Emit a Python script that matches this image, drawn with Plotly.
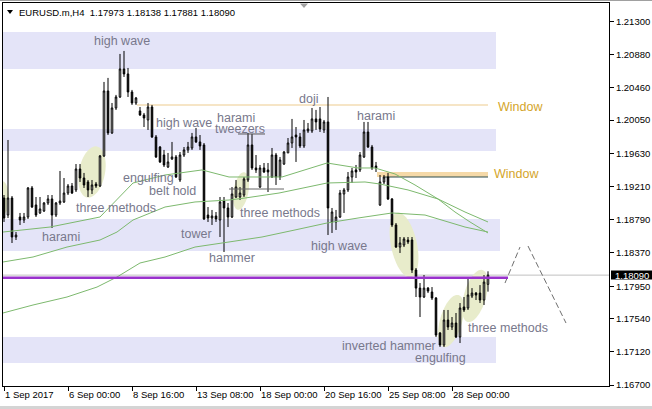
import math
import plotly.graph_objects as go

# ---------------- data ----------------
bars = list(range(122))
opens = [
    1.19065, 1.18850, 1.19065, 1.18572, 1.18825, 1.18787, 1.18825, 1.19192, 1.18977, 1.18876,
    1.18901, 1.19002, 1.19053, 1.18850, 1.19002, 1.19015, 1.19128, 1.19217, 1.19167, 1.19432,
    1.19318, 1.19268, 1.19167, 1.19242, 1.19217, 1.19597, 1.20419, 1.19888, 1.20204, 1.20343,
    1.20697, 1.20634, 1.20406, 1.20267, 1.20166, 1.20115, 1.20052, 1.20216, 1.19837, 1.19710,
    1.19609, 1.19457, 1.19559, 1.19584, 1.19293, 1.19609, 1.19673, 1.19698, 1.19837, 1.19774,
    1.19736, 1.18850, 1.18812, 1.18838, 1.18787, 1.19027, 1.18939, 1.18825, 1.19078, 1.19078,
    1.19103, 1.19293, 1.19736, 1.19445, 1.19204, 1.19445, 1.19420, 1.19331, 1.19609, 1.19331,
    1.19495, 1.19635, 1.19761, 1.19862, 1.19837, 1.19723, 1.19913, 1.19913, 1.20065, 1.20065,
    1.19926, 1.20027, 1.18762, 1.18762, 1.18825, 1.19116, 1.19167, 1.19331, 1.19420, 1.19420,
    1.19584, 1.19900, 1.19710, 1.19470, 1.18977, 1.19268, 1.19331, 1.19053, 1.18724, 1.18445,
    1.18471, 1.18534, 1.18534, 1.18155, 1.17926, 1.17813, 1.17926, 1.17876, 1.17800, 1.17358,
    1.17206, 1.17522, 1.17434, 1.17484, 1.17307, 1.17687, 1.17674, 1.17825, 1.17863, 1.17863,
    1.17775, 1.17973]
highs = [
    1.19103, 1.19799, 1.19090, 1.18635, 1.18876, 1.18876, 1.19204, 1.19217, 1.19078, 1.19078,
    1.19015, 1.19103, 1.19103, 1.19015, 1.19407, 1.19318, 1.19242, 1.19255, 1.19495, 1.19495,
    1.19382, 1.19293, 1.19293, 1.19268, 1.19609, 1.20533, 1.20584, 1.20267, 1.20369, 1.20887,
    1.20925, 1.20710, 1.20432, 1.20343, 1.20216, 1.20141, 1.20267, 1.20242, 1.19862, 1.19723,
    1.19673, 1.19635, 1.19774, 1.19609, 1.19647, 1.19710, 1.19774, 1.19888, 1.19951, 1.19862,
    1.19761, 1.18951, 1.18914, 1.18888, 1.19078, 1.19078, 1.19002, 1.19204, 1.19293, 1.19204,
    1.19331, 1.19888, 1.19875, 1.19609, 1.19483, 1.19508, 1.19508, 1.19698, 1.19635, 1.19584,
    1.19660, 1.19824, 1.20065, 1.19963, 1.19888, 1.20052, 1.20014, 1.20204, 1.20179, 1.20216,
    1.20052, 1.20343, 1.18939, 1.18914, 1.19167, 1.19192, 1.19394, 1.19445, 1.19483, 1.19647,
    1.20027, 1.20027, 1.19736, 1.19521, 1.19356, 1.19356, 1.19382, 1.19065, 1.18749, 1.18572,
    1.18572, 1.18572, 1.18572, 1.18180, 1.17990, 1.18091, 1.17939, 1.17939, 1.17813, 1.17370,
    1.17649, 1.17649, 1.17560, 1.17611, 1.17737, 1.17813, 1.18053, 1.17926, 1.17876, 1.17964,
    1.18091, 1.18138]
lows = [
    1.18762, 1.18812, 1.18496, 1.18534, 1.18724, 1.18749, 1.18800, 1.18939, 1.18825, 1.18863,
    1.18888, 1.18977, 1.18686, 1.18825, 1.18977, 1.19002, 1.19103, 1.19116, 1.19141, 1.19268,
    1.19192, 1.19078, 1.19116, 1.19192, 1.19204, 1.19584, 1.19862, 1.19875, 1.20179, 1.20330,
    1.20596, 1.20343, 1.20242, 1.20242, 1.20103, 1.19963, 1.19926, 1.19824, 1.19571, 1.19508,
    1.19457, 1.19445, 1.19546, 1.19318, 1.19268, 1.19584, 1.19635, 1.19673, 1.19761, 1.19673,
    1.18787, 1.18762, 1.18724, 1.18762, 1.18572, 1.18382, 1.18698, 1.18812, 1.19065, 1.19040,
    1.19078, 1.19268, 1.19420, 1.19382, 1.19192, 1.19382, 1.19141, 1.19318, 1.19230, 1.19293,
    1.19483, 1.19635, 1.19698, 1.19521, 1.19698, 1.19698, 1.19888, 1.19888, 1.19926, 1.19900,
    1.19888, 1.18597, 1.18623, 1.18661, 1.18812, 1.18876, 1.19141, 1.19255, 1.19318, 1.19394,
    1.19571, 1.19698, 1.19420, 1.19394, 1.18964, 1.19242, 1.19040, 1.18698, 1.18433, 1.18370,
    1.18445, 1.18483, 1.18117, 1.17813, 1.17560, 1.17800, 1.17863, 1.17775, 1.17307, 1.17181,
    1.17181, 1.17396, 1.17396, 1.17294, 1.17231, 1.17624, 1.17649, 1.17800, 1.17775, 1.17737,
    1.17712, 1.17881]
closes = [
    1.18812, 1.19065, 1.18572, 1.18597, 1.18787, 1.18825, 1.19192, 1.18951, 1.18850, 1.18926,
    1.19002, 1.19053, 1.18850, 1.19002, 1.19027, 1.19128, 1.19217, 1.19128, 1.19432, 1.19318,
    1.19230, 1.19167, 1.19230, 1.19217, 1.19597, 1.20419, 1.19888, 1.20204, 1.20343, 1.20697,
    1.20634, 1.20406, 1.20267, 1.20330, 1.20115, 1.20077, 1.20216, 1.19837, 1.19584, 1.19521,
    1.19483, 1.19521, 1.19584, 1.19331, 1.19609, 1.19673, 1.19710, 1.19837, 1.19774, 1.19723,
    1.18800, 1.18812, 1.18838, 1.18800, 1.19015, 1.18939, 1.18825, 1.19116, 1.19204, 1.19128,
    1.19306, 1.19736, 1.19445, 1.19420, 1.19445, 1.19394, 1.19394, 1.19609, 1.19331, 1.19546,
    1.19647, 1.19761, 1.19837, 1.19837, 1.19723, 1.19926, 1.19938, 1.20065, 1.20027, 1.19938,
    1.20027, 1.18939, 1.18888, 1.18825, 1.19128, 1.19167, 1.19331, 1.19407, 1.19394, 1.19609,
    1.19900, 1.19710, 1.19445, 1.19445, 1.19268, 1.19331, 1.19053, 1.18724, 1.18445, 1.18496,
    1.18547, 1.18509, 1.18155, 1.17926, 1.17813, 1.17926, 1.17888, 1.17800, 1.17332, 1.17206,
    1.17522, 1.17434, 1.17484, 1.17307, 1.17674, 1.17649, 1.17838, 1.17863, 1.17838, 1.17775,
    1.18002, 1.18090]

x_tick_bars = [0, 16, 32, 48, 64, 80, 96, 112]
x_tick_labels = ["1 Sep 2017", "6 Sep 00:00", "8 Sep 16:00", "13 Sep 08:00",
                 "18 Sep 00:00", "20 Sep 16:00", "25 Sep 08:00", "28 Sep 00:00"]
y_ticks = [1.21300, 1.20880, 1.20460, 1.20050, 1.19630, 1.19210,
           1.18790, 1.18370, 1.17950, 1.17540, 1.17120, 1.16700]

# moving averages
ma_fast_x = [-0.25, 11.5, 24, 29, 32.25, 40.25, 49.5, 56.25, 64.5, 69.5, 80.75, 88.5, 92.75, 97.75, 102.75, 108.5, 112.75, 116.5, 121]
ma_fast_y = [1.18635, 1.18698, 1.18825, 1.19078, 1.19255, 1.19356, 1.19420, 1.19331, 1.19331, 1.19331, 1.19508, 1.19445, 1.19445, 1.19369, 1.19230, 1.19053, 1.18888, 1.18762, 1.18623]
ma_mid_x = [-0.25, 7.25, 15.75, 24, 28.25, 32.25, 40.25, 47.75, 56.25, 60.25, 68.75, 80.75, 90.25, 94, 101, 108.5, 115.25, 121]
ma_mid_y = [1.18256, 1.18319, 1.18445, 1.18534, 1.18635, 1.18787, 1.18951, 1.19015, 1.19040, 1.19065, 1.19128, 1.19255, 1.19268, 1.19242, 1.19167, 1.19053, 1.18888, 1.18762]
ma_slow_x = [-0.25, 7.25, 15.75, 23.25, 28.25, 34, 40.25, 47.75, 56.25, 64.5, 72.75, 80.75, 88.5, 97, 105.25, 115.25, 121]
ma_slow_y = [1.17611, 1.17712, 1.17813, 1.17939, 1.18066, 1.18243, 1.18319, 1.18445, 1.18509, 1.18572, 1.18661, 1.18749, 1.18812, 1.18876, 1.18850, 1.18698, 1.18635]

last_price = 1.18090
support_level = 1.18057
projection_x = [125.25, 129.0]
projection_y = [1.17990, 1.18445]
projection2_x = [131.0, 140.5]
projection2_y = [1.18458, 1.17484]

# zones (price bands)
zones = [(1.21165, 1.20697), (1.19938, 1.19660), (1.18800, 1.18395), (1.17307, 1.16978)]

labels = [
    ("high wave", 29.5, 1.21051), ("high wave", 45, 1.20014), ("harami", 58, 1.20077),
    ("tweezers", 59, 1.19938), ("doji", 76, 1.20318), ("harami", 93, 1.20103),
    ("engulfing", 36, 1.19318), ("belt hold", 42, 1.19154), ("three methods", 28, 1.18939),
    ("harami", 14.25, 1.18572), ("tower", 48, 1.18610), ("hammer", 57, 1.18306),
    ("three methods", 69, 1.18876), ("high wave", 83.75, 1.18458),
    ("inverted hammer", 96.25, 1.17193), ("engulfing", 109, 1.17041),
    ("three methods", 126, 1.17421),
]

# ---------------- geometry ----------------
W, H = 652, 409
ML, MR, MT, MB = 3, 43, 3, 23
X_RANGE = [-0.25, 151.25]
Y_RANGE = [1.166876, 1.215314]
PW, PH = W - ML - MR, H - MT - MB
PX_BAR = PW / (X_RANGE[1] - X_RANGE[0])
PX_PRICE = PH / (Y_RANGE[1] - Y_RANGE[0])


def pxx(px):
    return (px - ML) / PW


def pxy(py):
    return (H - MB - py) / PH


def ellipse_path(cb, cp, a, b, theta_deg, n=60):
    th = math.radians(theta_deg)
    pts = []
    for k in range(n):
        t = 2 * math.pi * k / n
        dx = a * math.cos(t) * math.cos(th) - b * math.sin(t) * math.sin(th)
        dy = a * math.cos(t) * math.sin(th) + b * math.sin(t) * math.cos(th)
        pts.append((cb + dx / PX_BAR, cp + dy / PX_PRICE))
    return "M " + " L ".join(f"{x:.4f},{y:.6f}" for x, y in pts) + " Z"


fig = go.Figure()

shapes = []
BAND = "#E4E4F8"
for i, (top, bot) in enumerate(zones):
    x1 = 124 if i == 2 else 123
    shapes.append(dict(type="rect", xref="x", yref="y", x0=-1, x1=x1, y0=bot, y1=top,
                       fillcolor=BAND, line=dict(width=0), layer="below"))

ELL = "#E8ECCB"
ellipses = [(22, 1.19394, 26, 13, 79), (-0.5, 1.19065, 17, 7, 90), (59.25, 1.19154, 19, 7.5, 80),
            (100, 1.18471, 33, 13, 102), (111.75, 1.17509, 27, 11, 74), (117.75, 1.17826, 27, 11, 74)]
for cb, cp, a, b, th in ellipses:
    shapes.append(dict(type="path", xref="x", yref="y", path=ellipse_path(cb, cp, a, b, th),
                       fillcolor=ELL, line=dict(width=0), layer="below"))

# windows
shapes.append(dict(type="line", xref="x", yref="y", x0=33.25, x1=121, y0=1.20242, y1=1.20242,
                   line=dict(color="#F3DDB3", width=1.5), layer="below"))
shapes.append(dict(type="rect", xref="x", yref="y", x0=93.25, x1=121, y0=1.19331, y1=1.19394,
                   fillcolor="#F5D9A8", line=dict(width=0), layer="below"))
shapes.append(dict(type="line", xref="x", yref="y", x0=95.25, x1=121, y0=1.19331, y1=1.19331,
                   line=dict(color="#2F4F4F", width=1.2), layer="below"))
# tweezers levels
shapes.append(dict(type="line", xref="x", yref="y", x0=58.5, x1=65.25, y0=1.19875, y1=1.19875,
                   line=dict(color="#555555", width=1)))
shapes.append(dict(type="line", xref="x", yref="y", x0=56.25, x1=70, y0=1.19179, y1=1.19179,
                   line=dict(color="#666666", width=1)))
# current price and support
shapes.append(dict(type="line", xref="paper", yref="y", x0=0, x1=1, y0=last_price, y1=last_price,
                   line=dict(color="#C0C0C0", width=1), layer="below"))
shapes.append(dict(type="line", xref="x", yref="y", x0=-0.25, x1=126, y0=support_level, y1=support_level,
                   line=dict(color="#9932CC", width=2.6)))
# price label box on the axis
shapes.append(dict(type="rect", xref="paper", yref="paper", x0=pxx(611), x1=pxx(652),
                   y0=pxy(279.5), y1=pxy(270.5), fillcolor="black", line=dict(width=0)))
# header triangle & chart shift marker
shapes.append(dict(type="path", xref="paper", yref="paper",
                   path=f"M {pxx(7)},{pxy(10)} L {pxx(13)},{pxy(10)} L {pxx(10)},{pxy(14)} Z",
                   fillcolor="black", line=dict(width=0)))
shapes.append(dict(type="path", xref="paper", yref="paper",
                   path=f"M {pxx(300)},{pxy(3.5)} L {pxx(308)},{pxy(3.5)} L {pxx(304)},{pxy(8)} Z",
                   fillcolor="#A0A0A0", line=dict(width=0)))
# window frame greys
shapes.append(dict(type="rect", xref="paper", yref="paper", x0=pxx(0), x1=pxx(652),
                   y0=pxy(409), y1=pxy(406), fillcolor="#D4D4D4", line=dict(width=0)))
shapes.append(dict(type="rect", xref="paper", yref="paper", x0=pxx(0), x1=pxx(652),
                   y0=pxy(1), y1=pxy(0), fillcolor="#A0A0A0", line=dict(width=0)))

MA_COLOR = "#7DB96E"
for xs, ys in [(ma_slow_x, ma_slow_y), (ma_mid_x, ma_mid_y), (ma_fast_x, ma_fast_y)]:
    fig.add_trace(go.Scatter(x=xs, y=ys, mode="lines", line=dict(color=MA_COLOR, width=1),
                             hoverinfo="skip"))

for xs, ys in [(projection_x, projection_y), (projection2_x, projection2_y)]:
    fig.add_trace(go.Scatter(x=xs, y=ys, mode="lines",
                             line=dict(color="#6E6E6E", width=1, dash="6px,3px"), hoverinfo="skip"))

fig.add_trace(go.Candlestick(
    x=bars, open=opens, high=highs, low=lows, close=closes,
    increasing=dict(line=dict(color="black", width=1), fillcolor="white"),
    decreasing=dict(line=dict(color="black", width=1), fillcolor="black"),
    whiskerwidth=0,
))

TXT = "rgb(120,120,140)"
ann = []
for t, xb, yp in labels:
    ann.append(dict(x=xb, y=yp, xref="x", yref="y", text=t, showarrow=False,
                    xanchor="center", yanchor="middle",
                    font=dict(family="Liberation Sans, Arial", size=12.5, color=TXT)))
for xb, yp in [(123.0, 1.20216), (122.0, 1.19369)]:
    ann.append(dict(x=xb, y=yp, xref="x", yref="y", text="Window", showarrow=False,
                    xanchor="left", yanchor="middle",
                    font=dict(family="Liberation Sans, Arial", size=12.5, color="#D4A52A")))
ann.append(dict(x=pxx(17), y=pxy(12), xref="paper", yref="paper",
                text="EURUSD.m,H4  1.17973 1.18138 1.17881 1.18090", showarrow=False,
                xanchor="left", yanchor="middle",
                font=dict(family="Liberation Sans, Arial", size=9.5, color="black")))
ann.append(dict(x=pxx(631.5), y=pxy(275), xref="paper", yref="paper", text=f"{last_price:.5f}",
                showarrow=False, xanchor="center", yanchor="middle",
                font=dict(family="Liberation Sans, Arial", size=9.5, color="white")))

TICKFONT = dict(family="Liberation Sans, Arial", size=9.5, color="black")
fig.update_layout(
    width=W, height=H, margin=dict(l=ML, r=MR, t=MT, b=MB, autoexpand=False),
    paper_bgcolor="white", plot_bgcolor="white", showlegend=False,
    boxgap=0.45,
    shapes=shapes, annotations=ann,
    xaxis=dict(range=X_RANGE, showgrid=False, zeroline=False, showline=True, linecolor="black",
               linewidth=1, mirror=True, ticks="outside", ticklen=4, tickcolor="black",
               tickvals=x_tick_bars, ticktext=x_tick_labels, ticklabelposition="outside right",
               tickangle=0, automargin=False,
               tickfont=TICKFONT, rangeslider=dict(visible=False), fixedrange=True),
    yaxis=dict(range=Y_RANGE, side="right", showgrid=False, zeroline=False, showline=True,
               linecolor="black", linewidth=1, mirror=True, ticks="outside", ticklen=4,
               tickcolor="black", tickvals=y_ticks, ticktext=[f"{v:.5f}" for v in y_ticks],
               tickfont=TICKFONT, fixedrange=True, automargin=False),
)

fig.write_html(
    "out.html",
    config={"displayModeBar": False, "staticPlot": True},
    post_script="document.body.style.margin='0';document.body.style.overflow='hidden';",
)
